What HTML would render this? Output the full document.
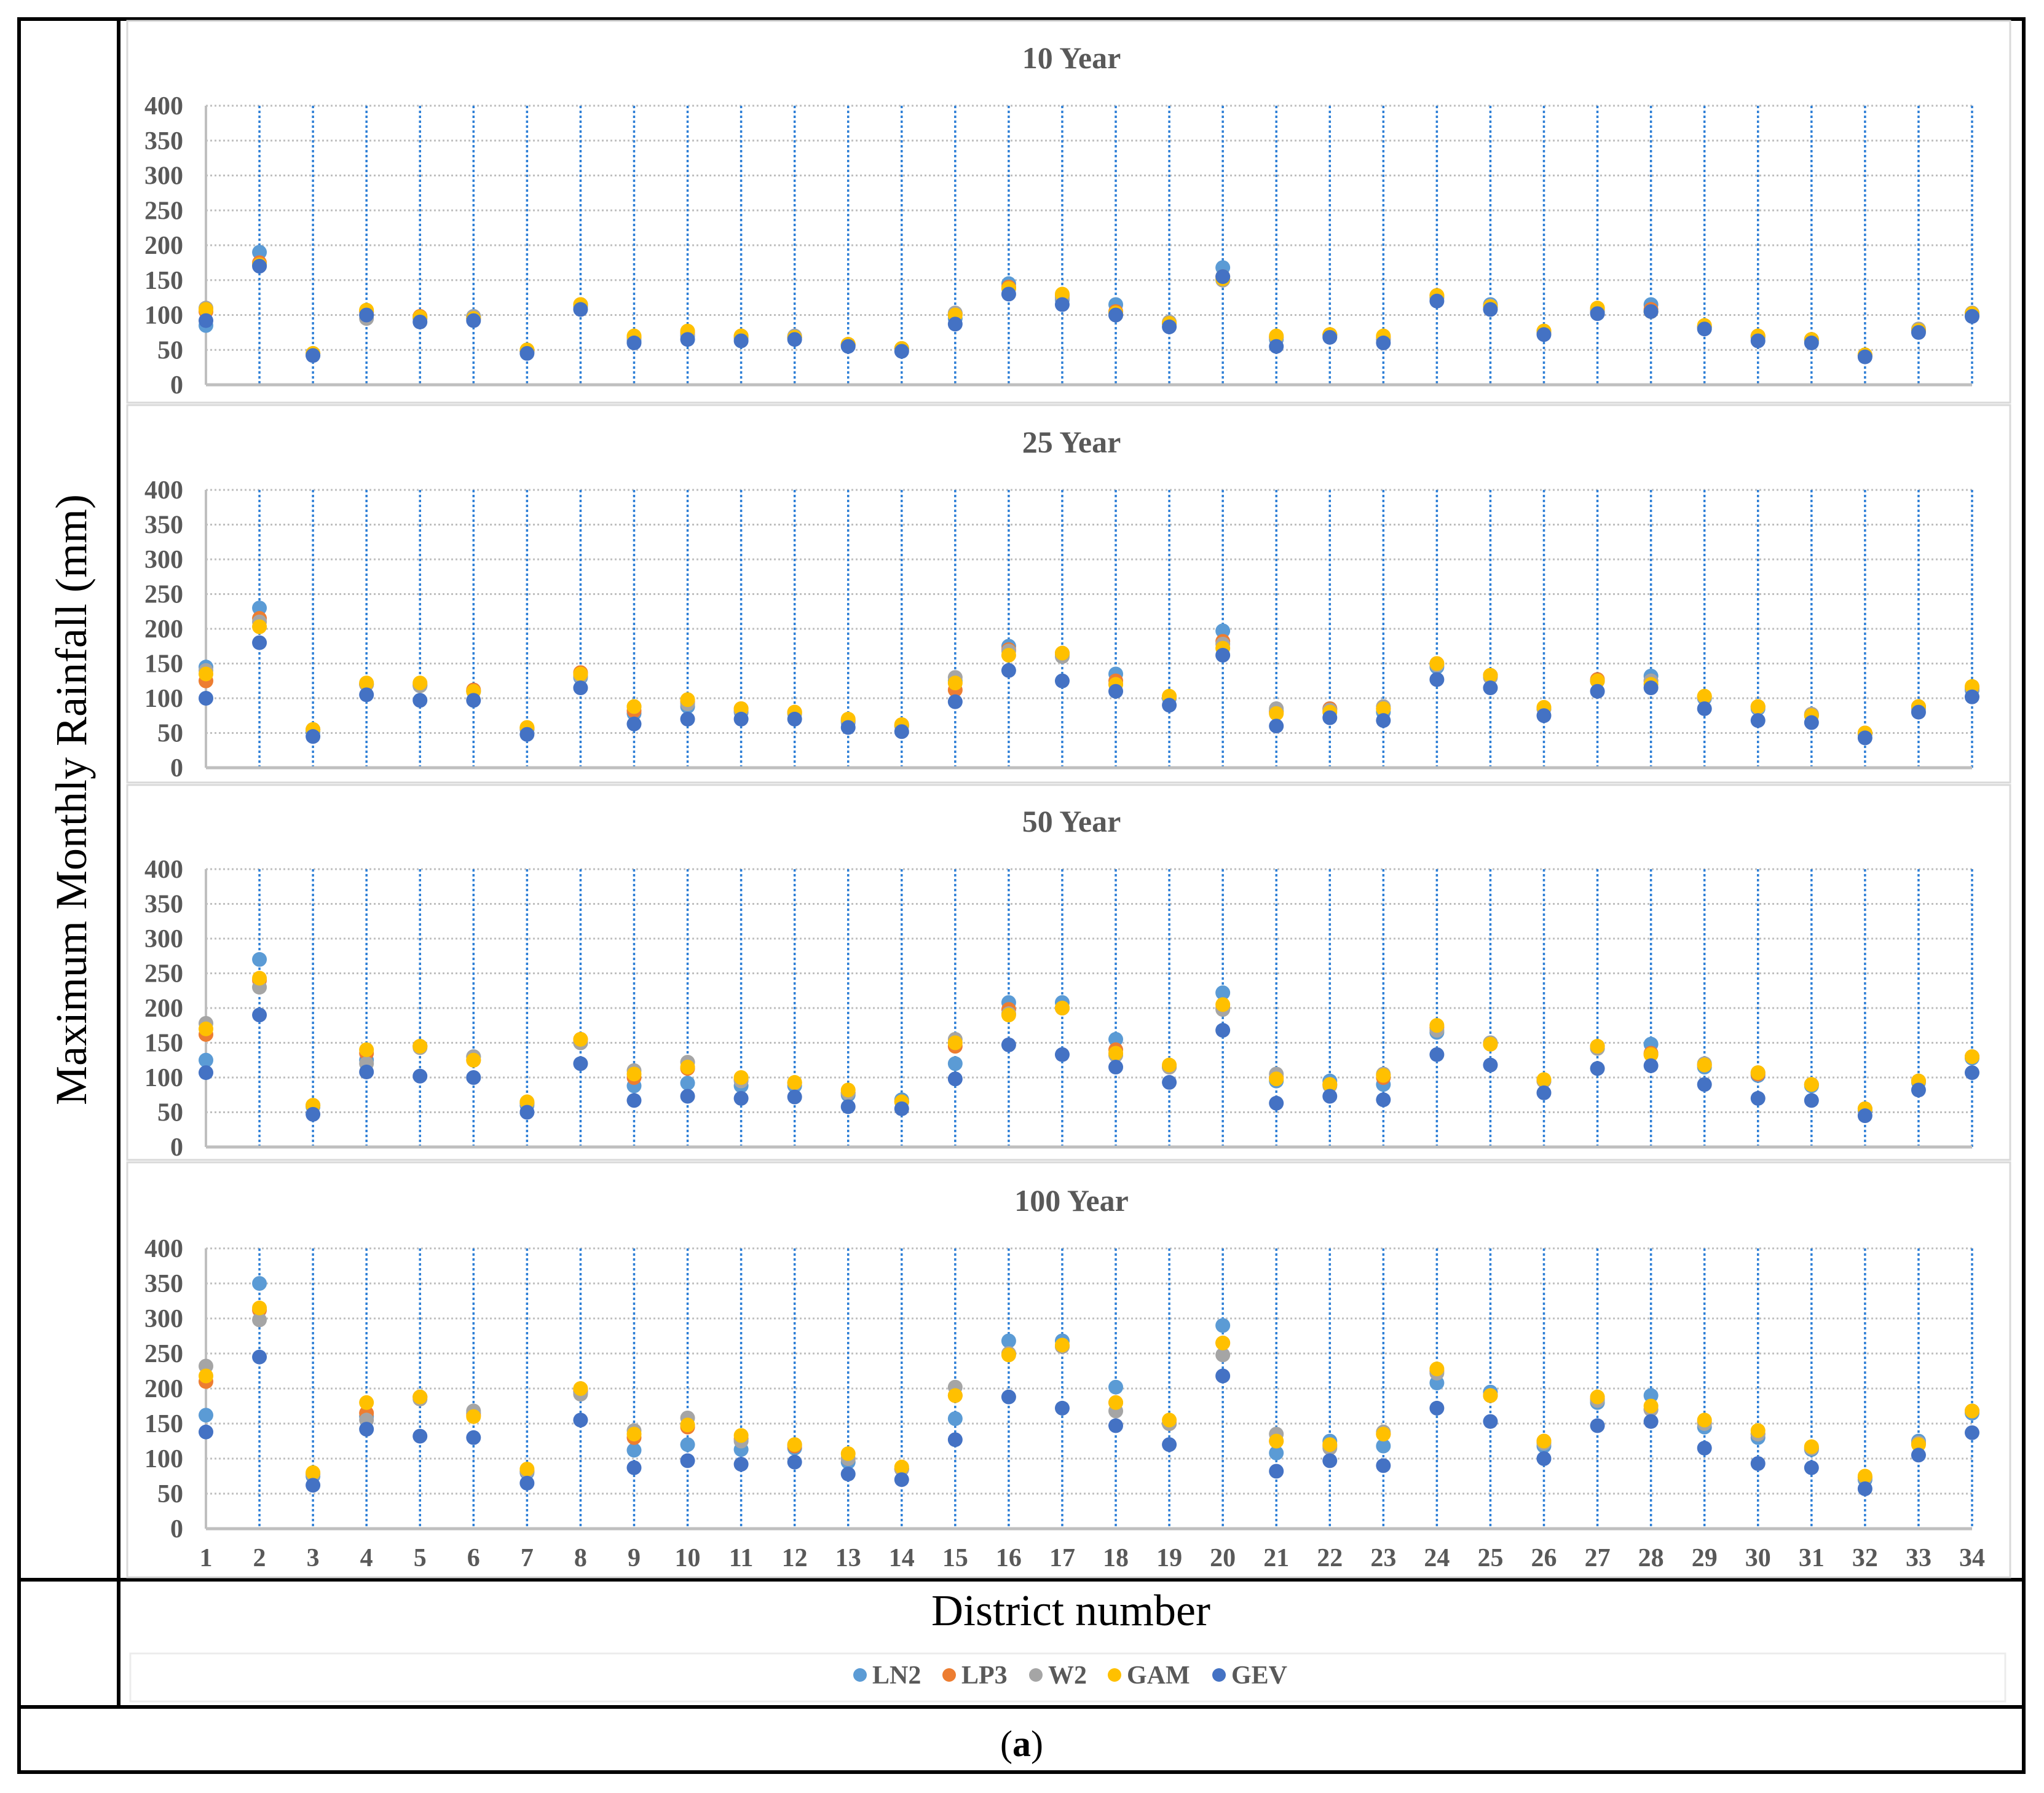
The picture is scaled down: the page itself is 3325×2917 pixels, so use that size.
<!DOCTYPE html>
<html><head><meta charset="utf-8"><style>
html,body{margin:0;padding:0;background:#fff;}
svg{display:block;}
text{font-family:"Liberation Serif",serif;}
</style></head><body>
<svg id="chart" width="3325" height="2917" viewBox="0 0 3325 2917" xmlns="http://www.w3.org/2000/svg">
<g fill="none" stroke="#000" stroke-width="6">
<rect x="31" y="31" width="3261" height="2852"/>
<line x1="193" y1="31" x2="193" y2="2777"/>
<line x1="31" y1="2570" x2="3292" y2="2570"/>
<line x1="31" y1="2777" x2="3292" y2="2777"/>
</g>
<text transform="translate(140,1301) rotate(-90)" text-anchor="middle" font-size="72" fill="#000">Maximum Monthly Rainfall (mm)</text>
<text x="1742" y="2644" text-anchor="middle" font-size="72" fill="#000">District number</text>
<text x="1662" y="2857" text-anchor="middle" font-size="60" fill="#000">(<tspan font-weight="bold">a</tspan>)</text>
<rect x="212" y="2690" width="3050" height="78" fill="none" stroke="#ececec" stroke-width="3"/>
<g id="legend"></g>
<g id="panels"></g>
</svg>
<script>
const districts = [1,2,3,4,5,6,7,8,9,10,11,12,13,14,15,16,17,18,19,20,21,22,23,24,25,26,27,28,29,30,31,32,33,34];
const yTicks = [0,50,100,150,200,250,300,350,400];
const seriesNames = ["LN2","LP3","W2","GAM","GEV"];
const seriesColors = ["#5B9BD5","#ED7D31","#A5A5A5","#FFC000","#4472C4"];
const panelTitles = ["10 Year","25 Year","50 Year","100 Year"];

const ln2_10 = [85,190,42,100,95,98,47,115,63,70,67,68,57,52,95,145,122,115,88,168,65,72,65,125,115,75,105,115,83,68,63,42,78,100];
const lp3_10 = [105,175,44,105,98,95,48,115,68,75,70,68,58,52,102,140,128,105,88,155,68,72,68,128,112,77,108,108,83,70,65,42,78,102];
const w2_10  = [110,172,45,95,95,98,48,112,67,72,68,70,57,52,103,138,125,100,90,150,68,70,65,125,113,75,105,105,82,68,65,42,80,103];
const gam_10 = [108,172,45,107,97,95,50,115,70,77,70,68,58,52,100,138,130,103,88,152,70,72,70,128,112,77,110,105,85,70,65,43,78,102];
const gev_10 = [92,170,42,100,90,92,45,108,60,65,63,65,55,48,87,130,115,100,83,155,55,68,60,120,108,72,102,105,80,63,60,40,75,98];

const ln2_25 = [145,230,52,120,118,110,55,130,78,88,80,78,65,60,125,175,163,135,100,197,82,85,80,145,133,85,125,132,100,85,75,48,88,112];
const lp3_25 = [125,215,55,120,120,112,57,137,82,95,85,80,68,62,112,170,165,125,102,182,80,85,85,150,133,85,127,125,102,88,77,50,88,115];
const w2_25  = [140,210,55,120,118,110,57,132,88,92,82,78,67,60,130,168,160,120,102,178,85,83,88,148,130,85,125,125,102,87,77,50,85,115];
const gam_25 = [135,203,55,122,122,110,58,135,88,98,85,80,70,62,122,162,165,120,103,172,78,80,85,150,133,87,125,120,103,88,75,50,88,117];
const gev_25 = [100,180,45,105,97,97,48,115,63,70,70,70,58,52,95,140,125,110,90,162,60,72,68,127,115,75,110,115,85,68,65,43,80,102];

const ln2_50 = [125,270,58,125,145,130,60,150,88,92,88,88,75,68,120,208,208,155,115,222,95,95,90,165,150,95,142,148,115,103,88,52,93,128];
const lp3_50 = [162,240,60,135,145,125,63,155,100,113,97,92,78,65,145,198,200,140,115,200,100,90,100,172,148,95,145,135,118,105,90,55,95,130];
const w2_50  = [178,230,60,120,143,130,63,150,110,122,95,92,78,65,155,192,200,132,115,198,105,88,105,168,150,95,142,133,120,107,90,55,95,130];
const gam_50 = [170,243,60,140,145,125,65,155,105,115,100,93,82,65,150,190,200,135,118,205,98,90,103,175,148,97,145,133,118,107,90,55,95,130];
const gev_50 = [107,190,47,108,102,100,50,120,67,73,70,72,58,55,98,147,133,115,93,168,63,73,68,133,118,78,113,117,90,70,67,45,82,107];

const ln2_100 = [162,350,75,160,188,165,80,195,112,120,113,115,95,85,157,268,268,202,150,290,108,125,118,208,195,118,180,190,145,130,113,70,125,165];
const lp3_100 = [210,312,78,165,188,162,82,198,130,145,128,118,100,85,190,250,260,180,150,265,125,118,135,225,190,125,185,170,152,135,115,73,122,168];
const w2_100  = [232,298,78,155,185,168,82,192,140,158,125,120,100,85,202,250,260,168,150,248,135,115,138,222,190,122,183,170,150,135,115,73,122,168];
const gam_100 = [218,315,80,180,188,160,85,200,135,148,133,120,107,88,190,248,262,180,155,265,125,120,135,228,190,125,188,175,155,140,117,75,120,168];
const gev_100 = [138,245,62,142,132,130,65,155,87,97,92,95,78,70,127,188,172,147,120,218,82,97,90,172,153,100,147,153,115,93,87,57,105,137];

const panelSeries = [
  [ln2_10, lp3_10, w2_10, gam_10, gev_10],
  [ln2_25, lp3_25, w2_25, gam_25, gev_25],
  [ln2_50, lp3_50, w2_50, gam_50, gev_50],
  [ln2_100, lp3_100, w2_100, gam_100, gev_100]
];

const NS = "http://www.w3.org/2000/svg";
function mk(tag, attrs, parent){ const e=document.createElementNS(NS,tag); for(const k in attrs) e.setAttribute(k,attrs[k]); parent.appendChild(e); return e; }

const boxes = [[34,655],[659,1273],[1277,1887],[1891,2566]];
const plots = [[172,626],[797,1249],[1414,1866],[2031,2487]];
const titleY = [111,736,1353,1970];
const X0 = 335, X1 = 3208;
function xScale(d){ return X0 + (d-1)*(X1-X0)/(districts.length-1); }

const panelsG = document.getElementById('panels');
panelTitles.forEach((title, p) => {
  const g = mk('g', {}, panelsG);
  
  
  const top = plots[p][0], bot = plots[p][1];
  const yScale = v => bot - v*(bot-top)/400;
  const box = mk('rect', {x:207, y:boxes[p][0], width:3063, height:boxes[p][1]-boxes[p][0], fill:'none', stroke:'#d9d9d9', 'stroke-width':3}, g);
  
  
  const t = mk('text', {x:1743, y:titleY[p], 'text-anchor':'middle', 'font-size':50, 'font-weight':'bold', fill:'#595959'}, g);
  
  
  t.textContent = title;
  yTicks.forEach(v => {
    const y = yScale(v);
    if (v > 0) {
      const gl = mk('line', {x1:X0, y1:y, x2:X1, y2:y, stroke:'#bfbfbf', 'stroke-width':3, 'stroke-dasharray':'3 4'}, g);
      
      
    }
    const tl = mk('text', {x:298, y:y+14, 'text-anchor':'end', 'font-size':42, 'font-weight':'bold', fill:'#595959'}, g);
    
    
    tl.textContent = v;
  });
  districts.forEach((d, i) => {
    if (i === 0) return;
    const x = xScale(d);
    const vl = mk('line', {x1:x, y1:top, x2:x, y2:bot, stroke:'#2E7FD6', 'stroke-width':3.5, 'stroke-dasharray':'4 4'}, g);
    
    
  });
  const ya = mk('line', {x1:X0, y1:top, x2:X0, y2:bot, stroke:'#bfbfbf', 'stroke-width':4}, g);
  
  
  const xa = mk('line', {x1:X0, y1:bot, x2:X1, y2:bot, stroke:'#bfbfbf', 'stroke-width':5}, g);
  
  
  panelSeries[p].forEach((vals, s) => {
    vals.forEach((v, i) => {
      const c = mk('circle', {cx:xScale(districts[i]), cy:yScale(v), r:12, fill:seriesColors[s]}, g);
      
      
    });
  });
  if (p === 3) {
    districts.forEach(d => {
      const xl = mk('text', {x:xScale(d), y:2548, 'text-anchor':'middle', 'font-size':42, 'font-weight':'bold', fill:'#595959'}, g);
      
      
      xl.textContent = d;
    });
  }
});

const legendX = [1399, 1544, 1685, 1813, 1983];
const legendG = document.getElementById('legend');
seriesNames.forEach((n, s) => {
  const e = mk('g', {}, legendG);
  
  
  mk('circle', {cx:legendX[s], cy:2725, r:11, fill:seriesColors[s]}, e);
  const t = mk('text', {x:legendX[s]+20, y:2739, 'font-size':42, 'font-weight':'bold', fill:'#595959'}, e);
  t.textContent = n;
});
</script>
</body></html>
